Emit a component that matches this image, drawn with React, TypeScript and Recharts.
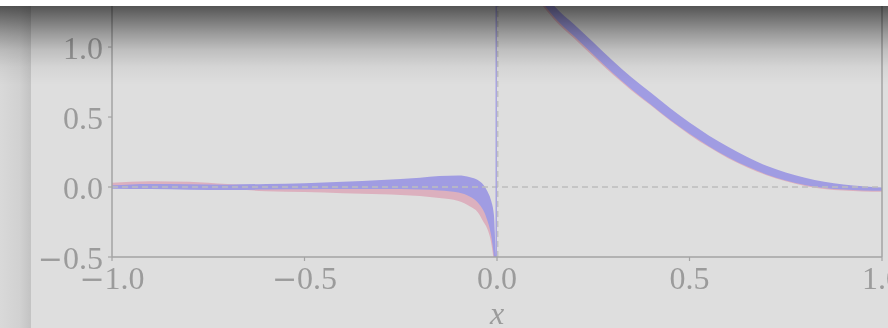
import React from 'react';
import { ComposedChart, Area, XAxis, YAxis, ReferenceLine, Label } from 'recharts';

// sample positions along x (dense near the jump at 0)
const xs = [
  -1, -0.9, -0.8, -0.7, -0.6, -0.5, -0.4, -0.3, -0.2, -0.15, -0.1, -0.07, -0.05, -0.035, -0.025, -0.015, -0.008, -0.002,
  0.002, 0.05, 0.1, 0.15, 0.2, 0.25, 0.3, 0.35, 0.4, 0.45, 0.5, 0.55, 0.6, 0.65, 0.7, 0.75, 0.8, 0.85, 0.9, 0.95, 1.0,
];

// blue band (lower / upper)
const blueLow = [
  -0.012, -0.015, -0.02, -0.022, -0.018, -0.016, -0.015, -0.015, -0.018, -0.025, -0.04, -0.07, -0.11, -0.17, -0.24, -0.35, -0.5, -0.7,
  2.9, 1.65, 1.39, 1.21, 1.078, 0.946, 0.816, 0.697, 0.587, 0.478, 0.38, 0.292, 0.213, 0.146, 0.089, 0.047, 0.014, -0.007, -0.018, -0.025, -0.027,
];
const blueHigh = [
  0.012, 0.022, 0.02, 0.017, 0.022, 0.027, 0.038, 0.05, 0.066, 0.078, 0.082, 0.07, 0.05, 0.015, -0.03, -0.1, -0.2, -0.5,
  3.1, 1.75, 1.47, 1.29, 1.162, 1.034, 0.904, 0.783, 0.673, 0.562, 0.46, 0.368, 0.287, 0.214, 0.151, 0.103, 0.066, 0.037, 0.018, 0.005, -0.003,
];

// red band (lower / upper)
const redLow = [
  0.0, 0.0, -0.005, -0.015, -0.03, -0.036, -0.045, -0.052, -0.065, -0.079, -0.1, -0.14, -0.18, -0.25, -0.3, -0.4, -0.55, -0.8,
  2.88, 1.63, 1.37, 1.192, 1.062, 0.932, 0.805, 0.688, 0.582, 0.473, 0.374, 0.285, 0.206, 0.14, 0.084, 0.041, 0.008, -0.014, -0.025, -0.032, -0.034,
];
const redHigh = [
  0.03, 0.042, 0.038, 0.022, 0.01, 0.005, 0.01, 0.015, 0.015, 0.0, -0.01, -0.04, -0.06, -0.09, -0.13, -0.2, -0.3, -0.55,
  3.08, 1.73, 1.45, 1.268, 1.138, 1.008, 0.879, 0.758, 0.654, 0.543, 0.442, 0.351, 0.27, 0.2, 0.14, 0.093, 0.056, 0.028, 0.009, -0.004, -0.012,
];

const xTicks = [-1, -0.5, 0, 0.5, 1];
const yTicks = [-0.5, 0, 0.5, 1];

const data = xs.map((x, i) => ({
  x,
  red: [redLow[i], redHigh[i]],
  blue: [blueLow[i], blueHigh[i]],
}));

const BG = '#dedede';
const AXIS = '#a3a3a3';
const TEXT = '#9b9b9b';
const BLUE = '#a09ce2';
const FONT = '"Liberation Serif", "Times New Roman", serif';

const TickText = ({ x, y, dy, anchor, value }: any) => (
  <text x={x} y={y} dy={dy} textAnchor={anchor} fill={TEXT} fontFamily={FONT} fontSize={32}>
    {value < 0 && <tspan fontFamily='"DejaVu Serif", serif' fontSize={30}>{'\u2212'}</tspan>}
    <tspan>{Math.abs(value).toFixed(1)}</tspan>
  </text>
);

const YTick = (props: any) => (
  <TickText x={props.x} y={props.y} dy={12} anchor="end" value={props.payload.value} />
);

const XTick = (props: any) => (
  <TickText x={props.x} y={props.y} dy={26} anchor="middle" value={props.payload.value} />
);

export default function App() {
  return (
    <div style={{ position: 'fixed', left: 0, top: 0, width: 888, height: 328, overflow: 'hidden', background: BG }}>
      <div
        style={{
          position: 'absolute', left: 0, top: 0, width: 31, height: 328,
          background: 'linear-gradient(to right, #d9d9d9 0px, #d1d1d1 20px, #c4c4c4 30px)',
        }}
      />
      <div style={{ position: 'absolute', left: 0, top: 0, filter: 'blur(0.45px)' }}>
        <ComposedChart width={888} height={328} data={data} margin={{ top: 0, right: 6, bottom: 0, left: 0 }}>
          <XAxis
            type="number"
            dataKey="x"
            domain={[-1, 1]}
            ticks={xTicks}
            allowDataOverflow
            height={71}
            tickSize={4}
            tickMargin={2}
            stroke={AXIS}
            axisLine={{ stroke: AXIS, strokeWidth: 1.5 }}
            tickLine={{ stroke: AXIS, strokeWidth: 1.2 }}
            tick={<XTick />}
            interval={0}
          >
            <Label
              content={(p: any) => (
                <text
                  x={p.viewBox.x + p.viewBox.width / 2}
                  y={p.viewBox.y + 67}
                  textAnchor="middle"
                  fill={TEXT}
                  fontFamily={FONT}
                  fontStyle="italic"
                  fontSize={32}
                >
                  x
                </text>
              )}
            />
          </XAxis>
          <YAxis
            type="number"
            domain={[-0.5, 1.336]}
            ticks={yTicks}
            allowDataOverflow
            width={112}
            tickSize={4}
            tickMargin={5}
            stroke={AXIS}
            axisLine={{ stroke: AXIS, strokeWidth: 1.5 }}
            tickLine={{ stroke: AXIS, strokeWidth: 1.2 }}
            tick={<YTick />}
            interval={0}
          />
          <ReferenceLine y={0} stroke="#bdbdbd" strokeWidth={1.3} strokeDasharray="6 4" />
          <Area
            dataKey="red"
            type="monotone"
            stroke="none"
            fill="#dcb0be"
            fillOpacity={1}
            isAnimationActive={false}
            activeDot={false}
          />
          <Area
            dataKey="blue"
            type="monotone"
            stroke="none"
            fill={BLUE}
            fillOpacity={1}
            isAnimationActive={false}
            activeDot={false}
          />
          <ReferenceLine x={-0.002} stroke={BLUE} strokeWidth={1.5} strokeOpacity={0.85} />
          <ReferenceLine x={0.002} stroke="#bdbdbd" strokeWidth={1.3} strokeDasharray="6 4" />
          <ReferenceLine x={1} stroke={AXIS} strokeWidth={1.5} />
        </ComposedChart>
      </div>
      <div
        style={{
          position: 'absolute', left: 0, top: 0, width: 888, height: 90, pointerEvents: 'none',
          background:
            'linear-gradient(to bottom, rgba(0,0,0,0.62) 6px, rgba(0,0,0,0.46) 20px, rgba(0,0,0,0.31) 33px, rgba(0,0,0,0.14) 50px, rgba(0,0,0,0.045) 67px, rgba(0,0,0,0) 85px)',
        }}
      />
      <div style={{ position: 'absolute', left: 0, top: 0, width: 888, height: 6, background: '#ffffff' }} />
    </div>
  );
}
